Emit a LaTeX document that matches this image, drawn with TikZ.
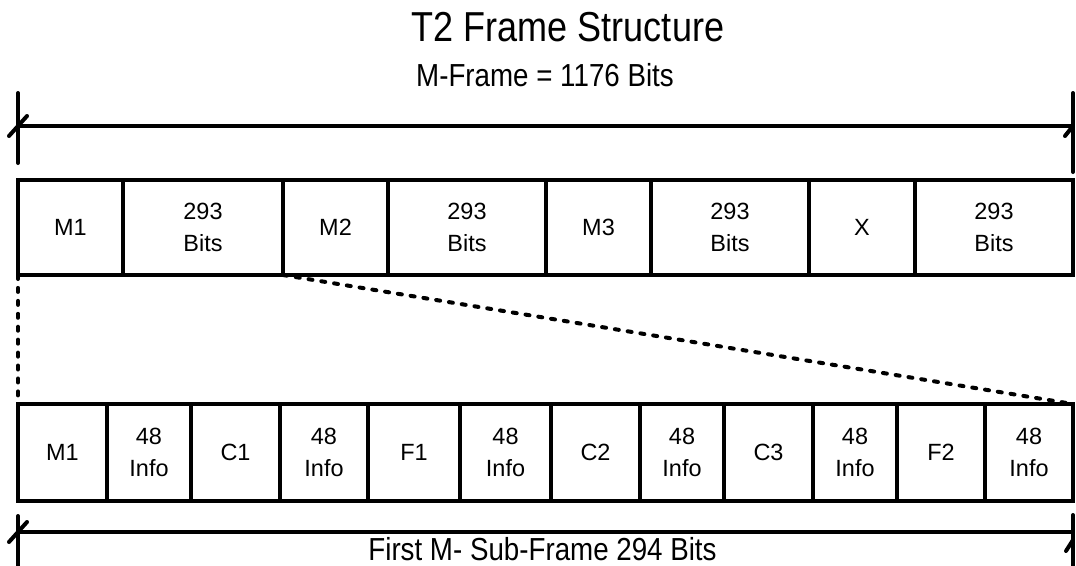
\documentclass[tikz,border=0pt]{standalone}
\usepackage{fontspec}
\setmainfont{Liberation Sans}
\newfontfamily\titlefam[FakeStretch=0.86]{Liberation Sans}
\newfontfamily\subfam[FakeStretch=0.87]{Liberation Sans}
\newcommand\lblfont{\fontsize{17.6}{24}\selectfont}
\newcommand\topbox[4]{\node[box, minimum width={(#2-#1)*0.75pt}, minimum height=71.25pt] (#3) at ({(#1+#2)/2},227.5) {#4};}
\newcommand\botbox[4]{\node[box, minimum width={(#2-#1)*0.75pt}, minimum height=72.75pt] (#3) at ({(#1+#2)/2},452.5) {#4};}
\begin{document}
\begin{tikzpicture}[x=0.75pt,y=-0.75pt,
  box/.style={draw, line width=3pt, inner sep=0pt, outer sep=0pt, align=center, font=\lblfont},
  dimline/.style={line width=3pt},
  barline/.style={line width=3pt, line cap=round},
  dotline/.style={line width=3pt, line cap=round, dash pattern=on 3pt off 6.7pt}]
\useasboundingbox (0,0) rectangle (1076,565);
% titles
\node[anchor=base, inner sep=0pt] (title) at (568,41.7) {\titlefam\fontsize{31.4}{36}\selectfont T2 Frame Structure};
\node[anchor=base, inner sep=0pt] (sub) at (545,86.7) {\subfam\fontsize{23.9}{28}\selectfont M-Frame = 1176 Bits};
% top frame
\topbox{18}{123}{tA}{M1}
\topbox{123}{283}{tB}{293\\Bits}
\topbox{283}{388}{tC}{M2}
\topbox{388}{546}{tD}{293\\Bits}
\topbox{546}{651}{tE}{M3}
\topbox{651}{809}{tF}{293\\Bits}
\topbox{809}{915}{tG}{X}
\topbox{915}{1073}{tH}{293\\Bits}
% bottom sub-frame
\botbox{18}{107}{bA}{M1}
\botbox{107}{191}{bB}{48\\Info}
\botbox{191}{280}{bC}{C1}
\botbox{280}{368}{bD}{48\\Info}
\botbox{368}{460}{bE}{F1}
\botbox{460}{551}{bF}{48\\Info}
\botbox{551}{640}{bG}{C2}
\botbox{640}{724}{bH}{48\\Info}
\botbox{724}{813}{bI}{C3}
\botbox{813}{897}{bJ}{48\\Info}
\botbox{897}{985}{bK}{F2}
\botbox{985}{1073}{bL}{48\\Info}
% dotted expansion lines
\draw[dotline] (tA.south west) -- (bA.north west);
\draw[dotline] (tC.south west) -- (bL.north east);
% top dimension line
\coordinate (tl) at (18,126);
\coordinate (tr) at (1073,126);
\draw[dimline] (tl) -- (tr);
\draw[barline] (18,93) -- (18,163);
\draw[barline] (1073,93) -- (1073,172);
\draw[barline] ([shift={(-9,10)}]tl) -- ([shift={(9,-10)}]tl);
\draw[barline] ([shift={(-8,10)}]tr) -- (tr);
% bottom dimension line
\coordinate (bl) at (18,532);
\coordinate (br) at (1073,532);
\draw[dimline] (bl) -- (br);
\draw[barline] (18,516) -- (18,570);
\draw[barline] (1073,515) -- (1073,570);
\draw[barline] ([shift={(-9,10)}]bl) -- ([shift={(9,-10)}]bl);
\draw[barline] (1066,551) -- (1073,540);
\node[anchor=base, inner sep=0pt] (btxt) at (542.5,560) {\subfam\fontsize{23.9}{28}\selectfont First M- Sub-Frame 294 Bits};
\end{tikzpicture}
\end{document}
